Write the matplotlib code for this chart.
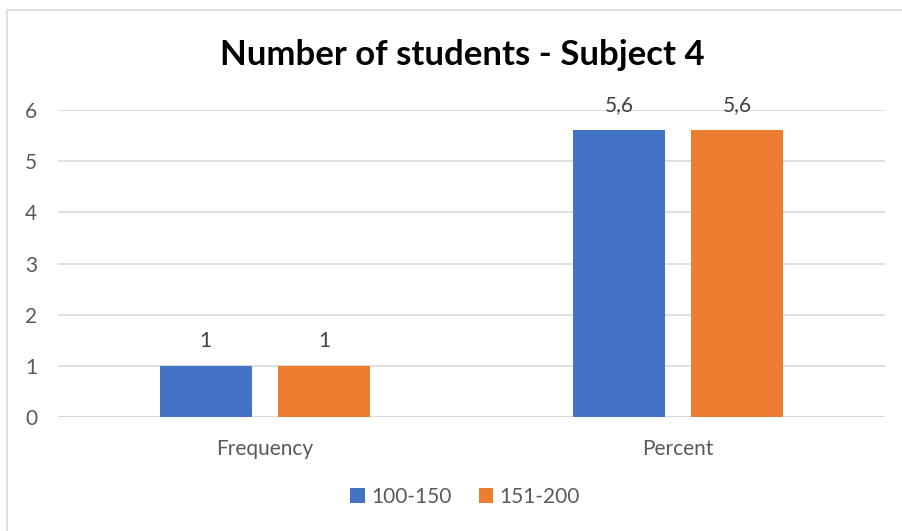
import matplotlib
matplotlib.use("Agg")
import numpy as np
import matplotlib.pyplot as plt
from matplotlib.patches import Rectangle

plt.rcParams['font.family'] = ['Lato', 'DejaVu Sans']

# Data
categories = ["Frequency", "Percent"]
series_names = ["100-150", "151-200"]
values_low = [1, 5.6]
values_high = [1, 5.6]
colors = ["#4472C4", "#ED7D31"]

fig = plt.figure(figsize=(9.03, 5.31), dpi=100)
ax = fig.add_axes([58 / 903, 1 - 417 / 531, (885 - 58) / 903, (417 - 110) / 531])

x = np.arange(len(categories))
width = 0.223
offset = 0.143

bars1 = ax.bar(x - offset, values_low, width, color=colors[0], label=series_names[0], zorder=3)
bars2 = ax.bar(x + offset, values_high, width, color=colors[1], label=series_names[1], zorder=3)

for bars in (bars1, bars2):
    for b in bars:
        h = b.get_height()
        lbl = f"{h:g}".replace(".", ",")
        ax.annotate(lbl, (b.get_x() + b.get_width() / 2, h), xytext=(0, 11),
                    textcoords="offset points", ha="center", va="bottom",
                    fontsize=15, color="#404040")

ax.set_xlim(-0.5, 1.5)
ax.set_ylim(0, 6)
ax.set_yticks(range(0, 7))
ax.yaxis.grid(True, color="#D9D9D9", linewidth=1.2, zorder=0)
for s in ax.spines.values():
    s.set_visible(False)
ax.axhline(0, color="#D9D9D9", linewidth=1.5, zorder=2)
ax.tick_params(axis="both", length=0, labelsize=15, labelcolor="#595959")
ax.tick_params(axis="y", pad=15)
ax.tick_params(axis="x", pad=16)
ax.set_xticks(x)
ax.set_xticklabels(categories)

fig.text(462 / 903, 1 - 55 / 531, "Number of students - Subject 4", ha="center", va="center",
         fontsize=25, fontweight="bold", color="black")

fig.legend(loc="center", bbox_to_anchor=(465 / 903, 1 - 497 / 531), ncol=2, frameon=False,
           fontsize=15, handlelength=0.7, handleheight=0.7, handletextpad=0.3,
           columnspacing=1.3, labelcolor="#595959")

# chart border
fig.patches.append(Rectangle((7 / 903, -0.05), 1.0, 1 - 10 / 531 + 0.05, transform=fig.transFigure,
                             fill=False, edgecolor="#D9D9D9", linewidth=1.2))

fig.savefig("out.png", dpi=100)
